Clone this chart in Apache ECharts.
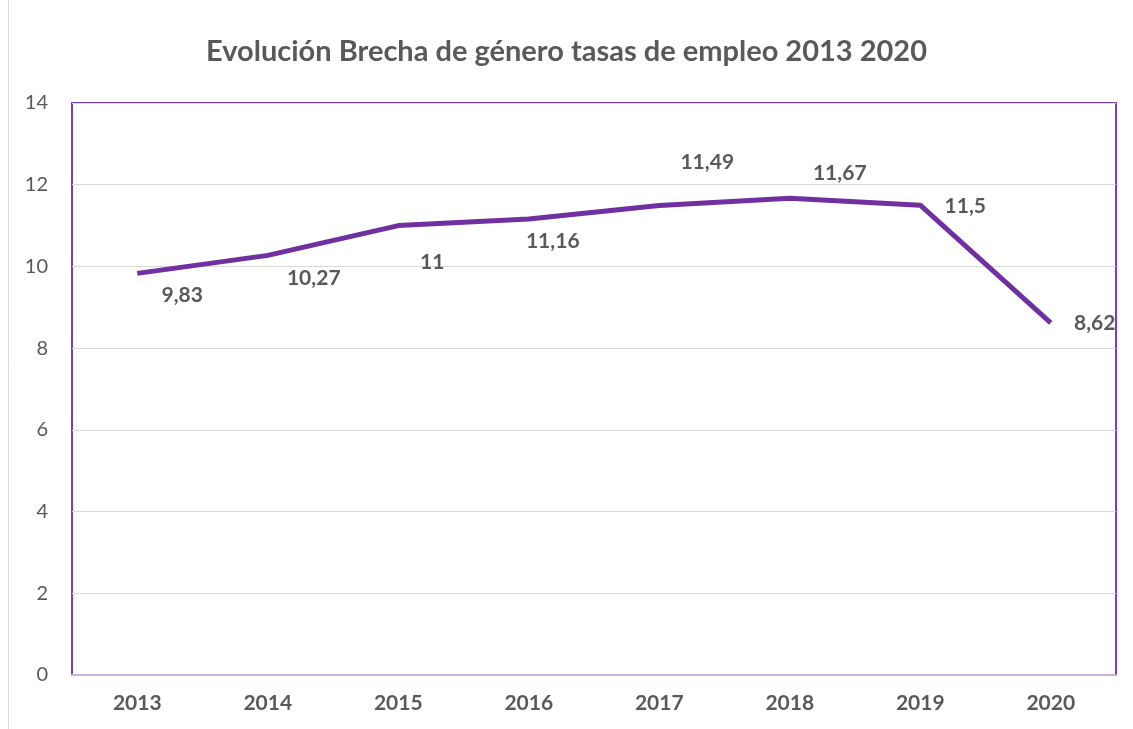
<!DOCTYPE html>
<html><head><meta charset="utf-8">
<script src="https://cdn.jsdelivr.net/npm/echarts@6/dist/echarts.min.js"></script>
<style>html,body{margin:0;padding:0;background:#fff}#c{width:1133px;height:729px}</style>
</head><body><div id="c"></div>
<script>
const categories = ['2013','2014','2015','2016','2017','2018','2019','2020'];
const values = [9.83, 10.27, 11, 11.16, 11.49, 11.67, 11.5, 8.62];
const labelTexts = ['9,83','10,27','11','11,16','11,49','11,67','11,5','8,62'];
const yTicks = [0, 2, 4, 6, 8, 10, 12, 14];

const labelOffsets = [[45,22],[46,23],[34,37],[24,22],[48,-43],[50,-25],[45,1],[44,0]];
const font = 'Lato, "Open Sans", sans-serif';
const chart = echarts.init(document.getElementById('c'));
chart.setOption({
  animation: false,
  title: {
    text: 'Evolución Brecha de género tasas de empleo 2013 2020',
    left: 'center', top: 32,
    textStyle: {fontFamily: font, fontSize: 29, fontWeight: 'bold', color: '#595959'}
  },
  graphic: [{type:'line', shape:{x1:8.5,y1:0,x2:8.5,y2:729}, style:{stroke:'#d9d9d9', lineWidth:1}}],
  grid: {left: 72, right: 17, top: 103, bottom: 54, show: true, borderColor: '#7a3fae', borderWidth: 2, backgroundColor: 'transparent'},
  xAxis: {
    type: 'category', data: categories, boundaryGap: true,
    axisLine: {lineStyle: {color: '#c8b2de', width: 2}},
    axisTick: {show: false},
    axisLabel: {fontFamily: font, fontSize: 21, fontWeight: 'bold', color: '#595959', margin: 18}
  },
  yAxis: {
    type: 'value', min: yTicks[0], max: yTicks[yTicks.length-1], interval: 2,
    axisLine: {show: false}, axisTick: {show: false},
    splitLine: {lineStyle: {color: '#d9d9d9', width: 1}},
    axisLabel: {fontFamily: font, fontSize: 20, color: '#595959', margin: 24}
  },
  series: [{
    type: 'line',
    data: values.map((v, i) => ({
      value: v,
      label: {offset: labelOffsets[i], formatter: labelTexts[i]}
    })),
    symbol: 'circle', symbolSize: 1,
    itemStyle: {color: 'rgba(112,48,160,0)'},
    lineStyle: {color: '#7030a0', width: 5},
    label: {show: true, position: 'inside', fontFamily: font, fontSize: 21, fontWeight: 'bold', color: '#595959'},
    z: 5
  }]
});
</script></body></html>
